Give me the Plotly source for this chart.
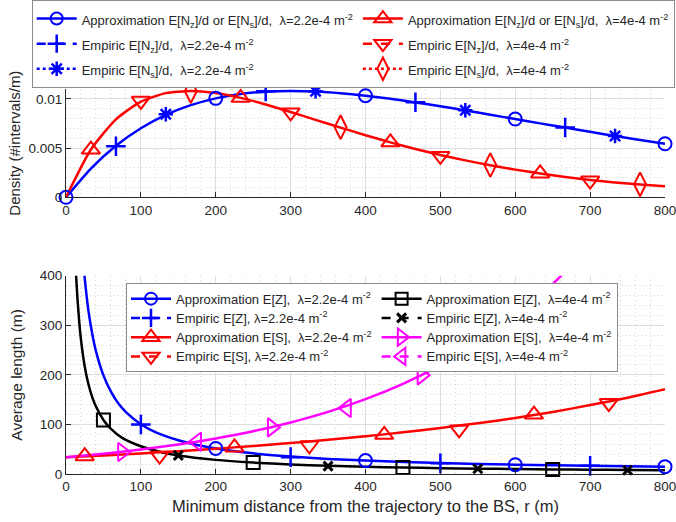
import plotly.graph_objects as go

# ---------------- data: top panel (density) ----------------
r_top = [0, 33.3, 66.7, 100, 133.3, 166.7, 200, 233.3, 266.7, 300, 333.3, 366.7, 400,
         433.3, 466.7, 500, 533.3, 566.7, 600, 633.3, 666.7, 700, 733.3, 766.7, 800]
dens_approx_22 = [0, 0.00292, 0.00523, 0.00701, 0.00837, 0.00936, 0.01005, 0.01049, 0.01073,
                  0.01080, 0.01074, 0.01057, 0.01032, 0.01001, 0.00964, 0.00925, 0.00882,
                  0.00839, 0.00795, 0.00751, 0.00708, 0.00665, 0.00623, 0.00582, 0.00544]
dens_approx_4 = [0, 0.00485, 0.00792, 0.00971, 0.01058, 0.01080, 0.01059, 0.01010, 0.00943,
                 0.00867, 0.00787, 0.00708, 0.00631, 0.00558, 0.00491, 0.00430, 0.00375,
                 0.00325, 0.00281, 0.00242, 0.00207, 0.00176, 0.00151, 0.00130, 0.00112]
r_mark_approx_22 = [0, 200, 400, 600, 800]
r_mark_approx_4 = [33.3, 233.3, 433.3, 633.3]
r_nz_22 = [66.7, 266.7, 466.7, 666.7]
nz_22 = [0.00518, 0.01076, 0.00966, 0.00709]
r_ns_22 = [133.3, 333.3, 533.3, 733.3]
ns_22 = [0.00843, 0.01076, 0.00884, 0.00622]
r_nz_4 = [100, 300, 500, 700]
nz_4 = [0.00980, 0.00862, 0.00420, 0.00170]
r_ns_4 = [166.7, 366.7, 566.7, 766.7]
ns_4 = [0.01078, 0.00712, 0.00328, 0.00132]

# ---------------- data: bottom panel (average length) ----------------
r_z22 = [20, 22, 25, 30, 35, 40, 50, 60, 70, 80, 100, 120, 150, 175, 200, 250, 300, 350,
         400, 500, 600, 700, 800]
ez_22 = [492, 448, 395, 329, 283, 248, 199, 166, 142, 125, 100.5, 84, 68, 58.5, 51.5, 41.7,
         35.2, 30.5, 27, 22.1, 18.8, 16.5, 14.8]
r_z4 = [12, 13.5, 15, 17.5, 20, 25, 30, 35, 40, 50, 60, 75, 100, 125, 150, 200, 250, 300,
        350, 400, 450, 500, 550, 600, 650, 700, 750, 800]
ez_4 = [451, 401, 361, 310, 271, 217, 181, 155, 136, 109, 91, 73, 56, 45, 37.5, 28.5, 23,
        19.2, 16.5, 14.5, 13, 11.8, 10.8, 10, 9.3, 8.7, 8.2, 7.8]
r_s = [0, 50, 100, 150, 200, 250, 300, 350, 400, 450, 500, 550, 600, 650, 700, 750, 800]
es_22 = [34, 37.5, 41.5, 46, 51, 56.5, 62.5, 69, 76, 84, 93, 102.5, 113, 125, 139, 154, 171]
es_4 = [34, 41, 49.4, 59.5, 71.7, 86.3, 104, 125.3, 151, 181.9, 219, 264, 318, 383, 462,
        None, None]

r_mz22 = [200, 400, 600, 800]
mz22 = [51.5, 27, 18.8, 14.8]
r_ez22 = [100, 300, 500, 700]
emp_z22 = [100, 34, 21.5, 16.5]
r_mz4 = [50, 250, 450, 650]
mz4 = [109, 23, 13, 9.3]
r_ez4 = [150, 350, 550, 750]
emp_z4 = [37.5, 16, 10.5, 7.5]
r_ms22 = [25, 225, 425, 625]
ms22 = [36, 53.5, 79, 120]
r_es22 = [125, 325, 525, 725]
emp_s22 = [37, 58, 90, 143]
r_ms4 = [75, 275, 475]
ms4 = [44.5, 94, 199]
r_es4 = [175, 375, 575]
emp_s4 = [65, 133, 285]

BLUE, RED, BLACK, MAG = "#0000ff", "#ff0000", "#000000", "#ff00ff"
TXT = "#262626"
LW = 2.5


def lookup(xs, ys, pts):
    d = dict(zip(xs, ys))
    return [d[p] for p in pts]


fig = go.Figure()


def curve(x, y, color, xa, ya):
    fig.add_trace(go.Scatter(x=x, y=y, mode="lines", line=dict(color=color, width=LW, shape="spline", smoothing=0.6),
                             showlegend=False, hoverinfo="skip", xaxis=xa, yaxis=ya))


def marks(x, y, color, symbol, size, xa, ya, lw=2):
    fig.add_trace(go.Scatter(x=x, y=y, mode="markers", cliponaxis=False,
                             marker=dict(symbol=symbol, size=size, color=color, line=dict(color=color, width=lw)),
                             showlegend=False, xaxis=xa, yaxis=ya))


def legend_item(name, color, symbol, size, dash, legend, group, rank, lw=2):
    fig.add_trace(go.Scatter(x=[None], y=[None], mode="lines+markers", name=name,
                             line=dict(color=color, width=LW, dash=dash),
                             marker=dict(symbol=symbol, size=size, color=color, line=dict(color=color, width=lw)),
                             legend=legend, legendgroup=group, legendrank=rank, showlegend=True))


# ---- top panel
curve(r_top, dens_approx_22, BLUE, "x", "y")
curve(r_top, dens_approx_4, RED, "x", "y")
marks(r_mark_approx_22, lookup(r_top, dens_approx_22, r_mark_approx_22), BLUE, "circle-open", 13, "x", "y")
marks(r_nz_22, nz_22, BLUE, "cross-thin-open", 14, "x", "y", 2.5)
marks(r_ns_22, ns_22, BLUE, "asterisk-open", 12, "x", "y", 2.5)
marks(r_mark_approx_4, lookup(r_top, dens_approx_4, r_mark_approx_4), RED, "triangle-up-open", 16, "x", "y")
marks(r_nz_4, nz_4, RED, "triangle-down-open", 16, "x", "y")
marks(r_ns_4, ns_4, RED, "diamond-tall-open", 17, "x", "y")

S1 = '<span style="font-size:13px">'
E1 = '</span>'
legend_item(S1 + "Approximation E[N<sub>z</sub>]/d or E[N<sub>s</sub>]/d,  λ=2.2e-4 m<sup>-2</sup>" + E1,
            BLUE, "circle-open", 12, "solid", "legend", "b", 1)
legend_item(S1 + "Empiric E[N<sub>z</sub>]/d,  λ=2.2e-4 m<sup>-2</sup>" + E1,
            BLUE, "cross-thin-open", 13, "dash", "legend", "b", 2, 2.5)
legend_item(S1 + "Empiric E[N<sub>s</sub>]/d,  λ=2.2e-4 m<sup>-2</sup>" + E1,
            BLUE, "asterisk-open", 12, "dot", "legend", "b", 3, 2.5)
legend_item(S1 + "Approximation E[N<sub>z</sub>]/d or E[N<sub>s</sub>]/d,  λ=4e-4 m<sup>-2</sup>" + E1,
            RED, "triangle-up-open", 15, "solid", "legend", "r", 4)
legend_item(S1 + "Empiric E[N<sub>z</sub>]/d,  λ=4e-4 m<sup>-2</sup>" + E1,
            RED, "triangle-down-open", 15, "dash", "legend", "r", 5)
legend_item(S1 + "Empiric E[N<sub>s</sub>]/d,  λ=4e-4 m<sup>-2</sup>" + E1,
            RED, "diamond-tall-open", 16, "dot", "legend", "r", 6)

# ---- bottom panel
curve(r_z22, ez_22, BLUE, "x2", "y2")
curve(r_z4, ez_4, BLACK, "x2", "y2")
curve(r_s, es_22, RED, "x2", "y2")
curve(r_s, es_4, MAG, "x2", "y2")
marks(r_mz22, mz22, BLUE, "circle-open", 13, "x2", "y2")
marks(r_ez22, emp_z22, BLUE, "cross-thin-open", 14, "x2", "y2", 2.5)
marks(r_mz4, mz4, BLACK, "square-open", 13, "x2", "y2")
marks(r_ez4, emp_z4, BLACK, "x-thin-open", 9, "x2", "y2", 3)
marks(r_ms22, ms22, RED, "triangle-up-open", 16, "x2", "y2")
marks(r_es22, emp_s22, RED, "triangle-down-open", 16, "x2", "y2")
marks(r_ms4, ms4, MAG, "triangle-right-open", 16, "x2", "y2")
marks(r_es4, emp_s4, MAG, "triangle-left-open", 16, "x2", "y2")

legend_item(S1 + "Approximation E[Z],  λ=2.2e-4 m<sup>-2</sup>" + E1, BLUE, "circle-open", 12, "solid", "legend2", "L", 1)
legend_item(S1 + "Empiric E[Z], λ=2.2e-4 m<sup>-2</sup>" + E1, BLUE, "cross-thin-open", 13, "dash", "legend2", "L", 2, 2.5)
legend_item(S1 + "Approximation E[S],  λ=2.2e-4 m<sup>-2</sup>" + E1, RED, "triangle-up-open", 15, "solid", "legend2", "L", 3)
legend_item(S1 + "Empiric E[S], λ=2.2e-4 m<sup>-2</sup>" + E1, RED, "triangle-down-open", 15, "dash", "legend2", "L", 4)
legend_item(S1 + "Approximation E[Z],  λ=4e-4 m<sup>-2</sup>" + E1, BLACK, "square-open", 12, "solid", "legend2", "R", 5)
legend_item(S1 + "Empiric E[Z], λ=4e-4 m<sup>-2</sup>" + E1, BLACK, "x-thin-open", 9, "dash", "legend2", "R", 6, 3)
legend_item(S1 + "Approximation E[S],  λ=4e-4 m<sup>-2</sup>" + E1, MAG, "triangle-right-open", 15, "solid", "legend2", "R", 7)
legend_item(S1 + "Empiric E[S], λ=4e-4 m<sup>-2</sup>" + E1, MAG, "triangle-left-open", 15, "dash", "legend2", "R", 8)

FONT = "Liberation Sans, Arial, Helvetica, sans-serif"


def axis_style(**kw):
    d = dict(showline=True, linecolor=TXT, linewidth=1, ticks="inside", ticklen=5, tickcolor=TXT,
             showgrid=True, gridcolor="#dedede", gridwidth=1, zeroline=False, ticklabeloverflow="allow",
             tickfont=dict(family=FONT, size=13.5, color=TXT))
    d.update(kw)
    return d


ML, MR, MT, MB = 66, 11, 89, 48
fig.update_layout(
    width=676, height=522,
    margin=dict(l=ML, r=MR, t=MT, b=MB, autoexpand=False),
    paper_bgcolor="white", plot_bgcolor="white",
    font=dict(family=FONT, color=TXT),
    xaxis=axis_style(domain=[0, 1], anchor="y", range=[0, 800], dtick=100,
                     minor=dict(dtick=20, showgrid=True, gridcolor="#d6d6d6", griddash="1px,3px")),
    yaxis=axis_style(domain=[0.7187, 1], anchor="x", range=[0, 0.011],
                     tickvals=[0, 0.005, 0.01], ticktext=["0", "0.005", "0.01"],
                     minor=dict(tickvals=[0.001, 0.002, 0.003, 0.004, 0.006, 0.007, 0.008, 0.009, 0.011],
                                showgrid=True, gridcolor="#d6d6d6", griddash="1px,3px"),
                     title=dict(text="Density (#intervals/m)", font=dict(size=15, color=TXT), standoff=4)),
    xaxis2=axis_style(domain=[0, 1], anchor="y2", range=[0, 800], dtick=100,
                      minor=dict(dtick=20, showgrid=True, gridcolor="#d6d6d6", griddash="1px,3px"),
                      title=dict(text="Minimum distance from the trajectory to the BS, r (m)",
                                 font=dict(size=16.5, color=TXT), standoff=7)),
    yaxis2=axis_style(domain=[0, 0.515], anchor="x2", range=[0, 400], dtick=100,
                      minor=dict(dtick=20, showgrid=True, gridcolor="#d6d6d6", griddash="1px,3px"),
                      title=dict(text="Average length (m)", font=dict(size=15.5, color=TXT), standoff=13)),
    legend=dict(x=(31.7 - ML) / (676 - ML - MR), y=(522 - MB) / (522 - MT - MB), xanchor="left", yanchor="top",
                orientation="h", traceorder="grouped", tracegroupgap=0, itemwidth=40,
                bgcolor="white", bordercolor="#8c8c8c", borderwidth=1,
                font=dict(family=FONT, size=17, color=TXT), itemclick=False, itemdoubleclick=False),
    legend2=dict(x=(126 - ML) / (676 - ML - MR), y=(522 - MB - 283) / (522 - MT - MB), xanchor="left", yanchor="top",
                 orientation="h", traceorder="grouped", tracegroupgap=0, itemwidth=40,
                 bgcolor="white", bordercolor="#8c8c8c", borderwidth=1,
                 font=dict(family=FONT, size=12.5, color=TXT), itemclick=False, itemdoubleclick=False),
)

fig.write_html("out.html", config={"displayModeBar": False},
               post_script="document.body.style.margin='0px';document.body.style.padding='0px';")
